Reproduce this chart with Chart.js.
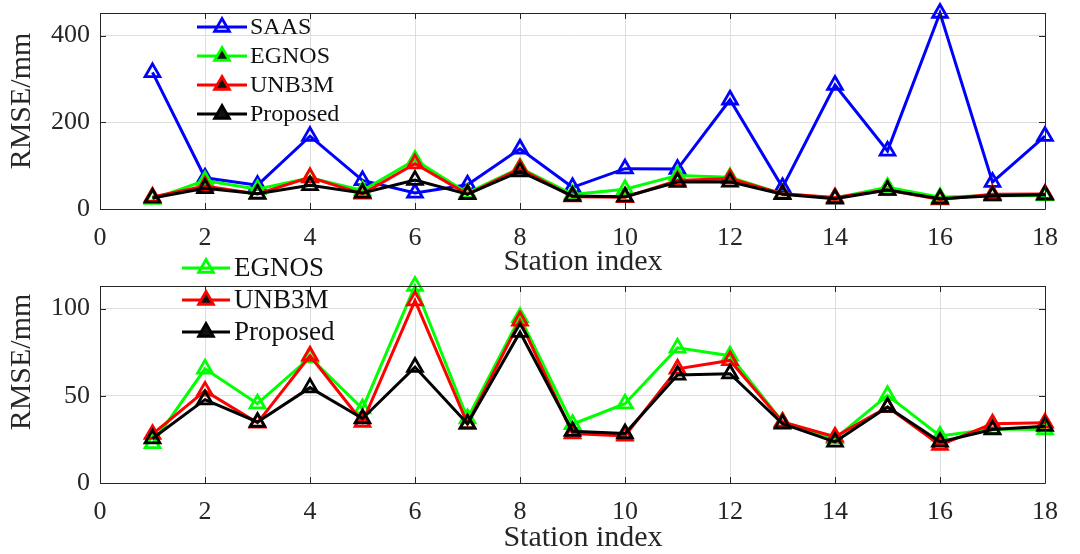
<!DOCTYPE html>
<html><head><meta charset="utf-8">
<script src="https://cdn.jsdelivr.net/npm/chart.js@4.4.0/dist/chart.umd.min.js"></script>
<style>
html,body{margin:0;padding:0;background:#fff;overflow:hidden;width:1080px;height:554px;}
#c1{position:absolute;left:0;top:0;}
#c2{position:absolute;left:0;top:250px;}
</style></head><body>
<canvas id="c1" width="1080" height="280"></canvas>
<canvas id="c2" width="1080" height="304"></canvas>
<script>
// ---- data ----
const stations = [1,2,3,4,5,6,7,8,9,10,11,12,13,14,15,16,17,18];
const saas     = [315,72,55,168,66,37,56,139,50,93,92,252,50,286,134,452,62,168];
const egnos    = [22.7,65.5,45.5,72,42.7,113,37,95,33.7,45.5,77.5,73,35,25.5,50.3,27,31,30.7];
const unb3m    = [28,52.8,34.5,73,35,104.6,34,93,28.4,27,65.5,70.3,35,26.5,43.6,21.7,34,34.5];
const proposed = [25.5,47.8,35,54.7,37,66.5,34,86.5,29.7,28.4,62,62.7,34,23.6,43.6,23.6,30.7,32.6];
const xTicks = [0,2,4,6,8,10,12,14,16,18];
const topYTicks = [0,200,400];
const bottomYTicks = [0,50,100];
const seriesNames = ['SAAS','EGNOS','UNB3M','Proposed'];
const seriesColors = ['#0000ff','#00ff00','#ff0000','#000000'];
const xTitle = 'Station index';
const yTitle = 'RMSE/mm';

const FONT = "'Liberation Serif','Times New Roman',serif";
const AXIS_COLOR = '#262626';

function pts(vals){ return stations.map((s,i)=>({x:s,y:vals[i]})); }
function ds(name, vals, order){
  const c = seriesColors[seriesNames.indexOf(name)];
  return {label:name, data:pts(vals), borderColor:c, backgroundColor:'rgba(0,0,0,0)',
    borderWidth:3, pointStyle:'triangle', pointRadius:8.5, pointBorderWidth:2.8,
    pointBackgroundColor:'rgba(0,0,0,0)', pointBorderColor:c, tension:0, clip:false, order:order};
}

const framePlugin = {
  id:'frame',
  afterDatasetsDraw(chart){
    const {ctx, chartArea:a, scales} = chart;
    ctx.save();
    ctx.strokeStyle = AXIS_COLOR; ctx.lineWidth = 1;
    ctx.beginPath();
    ctx.rect(a.left+0.5, a.top+0.5, a.right-a.left, a.bottom-a.top);
    ctx.stroke();
    const L = 6;
    ctx.beginPath();
    scales.x.ticks.forEach(t=>{
      const px = Math.round(scales.x.getPixelForValue(t.value))+0.5;
      ctx.moveTo(px,a.bottom); ctx.lineTo(px,a.bottom-L);
      ctx.moveTo(px,a.top); ctx.lineTo(px,a.top+L);
    });
    scales.y.ticks.forEach(t=>{
      const py = Math.round(scales.y.getPixelForValue(t.value))+0.5;
      ctx.moveTo(a.left,py); ctx.lineTo(a.left+L,py);
      ctx.moveTo(a.right,py); ctx.lineTo(a.right-L,py);
    });
    ctx.stroke();
    ctx.restore();
  }
};

const titlesPlugin = {
  id:'axisTitles',
  afterDraw(chart, args, opts){
    const {ctx} = chart;
    ctx.save();
    ctx.fillStyle = AXIS_COLOR;
    ctx.font = opts.size+'px '+FONT;
    ctx.textAlign = 'center'; ctx.textBaseline = 'middle';
    ctx.fillText(xTitle, opts.xt[0], opts.xt[1]);
    ctx.translate(opts.yt[0], opts.yt[1]);
    ctx.rotate(-Math.PI/2);
    ctx.fillText(yTitle, 0, 0);
    ctx.restore();
  }
};

const legendPlugin = {
  id:'customLegend',
  afterDraw(chart, args, opts){
    const {ctx} = chart;
    ctx.save();
    const names = opts.names;
    names.forEach((n,i)=>{
      const c = seriesColors[seriesNames.indexOf(n)];
      const y = opts.y0 + i*opts.dy;
      ctx.strokeStyle = c; ctx.lineWidth = 3;
      ctx.beginPath(); ctx.moveTo(opts.x1,y); ctx.lineTo(opts.x2,y); ctx.stroke();
      const mx = (opts.x1+opts.x2)/2;
      ctx.lineWidth = 2.8;
      Chart.helpers.drawPoint(ctx,{pointStyle:'triangle',radius:8.5,borderWidth:2.8,rotation:0},mx,y);
      ctx.fillStyle = '#111';
      ctx.font = opts.size+'px '+FONT;
      ctx.textBaseline = 'middle'; ctx.textAlign = 'left';
      ctx.fillText(n, opts.tx, y+1);
    });
    ctx.restore();
  }
};

function makeChart(id, datasets, yMax, yTicks, padTop, xHeight, legendOpts, titleOpts){
  return new Chart(document.getElementById(id), {
    type:'line',
    data:{datasets},
    options:{
      responsive:false, animation:false, devicePixelRatio:1,
      layout:{padding:{left:0,right:35,top:padTop,bottom:0}},
      plugins:{legend:{display:false}, tooltip:{enabled:false}, customLegend:legendOpts, axisTitles:titleOpts},
      scales:{
        x:{type:'linear', min:0, max:18,
          afterBuildTicks:s=>{ s.ticks = xTicks.map(v=>({value:v})); },
          afterFit:s=>{ s.height = xHeight; s.paddingLeft = 0; s.paddingRight = 0; },
          grid:{color:'#dedede', lineWidth:1, drawTicks:false},
          border:{display:false},
          ticks:{color:AXIS_COLOR, font:{family:FONT,size:26}, padding:14, maxRotation:0, autoSkip:false},
          title:{display:false}
        },
        y:{type:'linear', min:0, max:yMax,
          afterBuildTicks:s=>{ s.ticks = yTicks.map(v=>({value:v})); },
          afterFit:s=>{ s.width = 100; s.paddingTop = 0; s.paddingBottom = 0; },
          grid:{color:'#dedede', lineWidth:1, drawTicks:false},
          border:{display:false},
          ticks:{color:AXIS_COLOR, font:{family:FONT,size:26}, padding:10},
          title:{display:false}
        }
      }
    },
    plugins:[framePlugin, legendPlugin, titlesPlugin]
  });
}

makeChart('c1',
  [ds('SAAS',saas,3), ds('EGNOS',egnos,2), ds('UNB3M',unb3m,1), ds('Proposed',proposed,0)],
  452, topYTicks, 13, 280-209,
  {names:['SAAS','EGNOS','UNB3M','Proposed'], x1:197, x2:247, tx:250, y0:27, dy:29, size:24},
  {size:30, xt:[583,262], yt:[22,101]});

makeChart('c2',
  [ds('EGNOS',egnos,2), ds('UNB3M',unb3m,1), ds('Proposed',proposed,0)],
  113, bottomYTicks, 36, 304-233,
  {names:['EGNOS','UNB3M','Proposed'], x1:182, x2:230, tx:234, y0:18, dy:32, size:27},
  {size:30, xt:[583,288], yt:[22,112]});
</script>
</body></html>
